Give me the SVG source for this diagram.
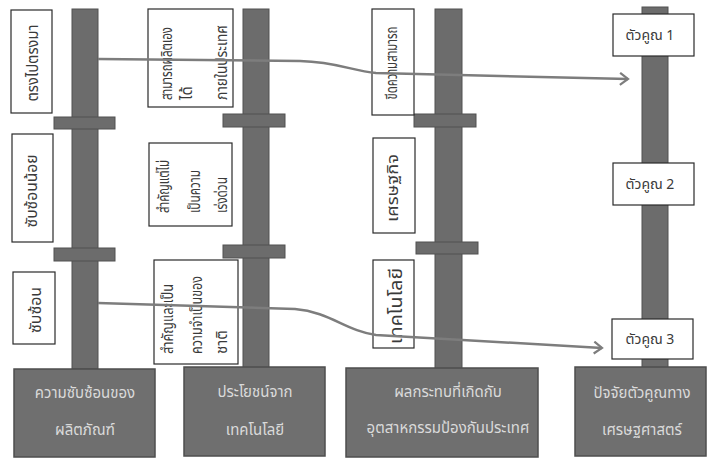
<svg xmlns="http://www.w3.org/2000/svg" width="708" height="459" viewBox="0 0 708 459">
<style>
.bg{fill:#ffffff}
.stem{fill:#6c6c6c;stroke:#515151;stroke-width:1}
.bar{fill:#6c6c6c;stroke:#515151;stroke-width:1}
.box{fill:#ffffff;stroke:#2a2a2a;stroke-width:1.2}
.base{fill:#6f6f6f;stroke:#4e4e4e;stroke-width:1.5}
.t{font-family:"Noto Sans Thai","Noto Sans","DejaVu Sans",sans-serif;font-size:15px;fill:#3a3a3a}
.w{font-family:"Noto Sans Thai","Noto Sans","DejaVu Sans",sans-serif;font-size:15px;fill:#dadada;text-anchor:middle}
.m{font-family:"Noto Sans Thai","Noto Sans","DejaVu Sans",sans-serif;font-size:14px;fill:#3a3a3a;text-anchor:middle}
.c{fill:none;stroke:#7d7d7d;stroke-width:2.5}
</style>
<defs>
<marker id="ah" markerUnits="userSpaceOnUse" markerWidth="14" markerHeight="14" refX="11" refY="7" orient="auto">
<path d="M3,1 L11,7 L3,13" fill="none" stroke="#7d7d7d" stroke-width="2.2"/>
</marker>
</defs>
<rect class="bg" x="0" y="0" width="708" height="459"/>

<g id="spine1">
<rect class="stem" x="72" y="9" width="26" height="360"/>
<rect class="bar" x="54" y="117" width="61" height="12"/>
<rect class="bar" x="54" y="248" width="61" height="13"/>
</g>
<g id="spine2">
<rect class="stem" x="243" y="9" width="26" height="360"/>
<rect class="bar" x="223" y="114" width="62" height="13"/>
<rect class="bar" x="223" y="245" width="62" height="13"/>
</g>
<g id="spine3">
<rect class="stem" x="435" y="9" width="27" height="360"/>
<rect class="bar" x="414" y="114" width="62" height="13"/>
<rect class="bar" x="416" y="242" width="62" height="12"/>
</g>
<g id="spine4">
<rect class="stem" x="642" y="7" width="26" height="362"/>
</g>

<g id="l1">
<rect class="box" x="11" y="10" width="41" height="103"/>
<text class="t" text-anchor="middle" transform="translate(38,63) rotate(-90)" textLength="77" lengthAdjust="spacingAndGlyphs">ตรงไปตรงมา</text>
</g>
<g id="l2">
<rect class="box" x="12" y="134" width="41" height="108"/>
<text class="t" text-anchor="middle" transform="translate(37,191) rotate(-90)" textLength="73" lengthAdjust="spacingAndGlyphs">ซับซ้อนน้อย</text>
</g>
<g id="l3">
<rect class="box" x="13" y="272" width="42" height="72"/>
<text class="t" text-anchor="middle" transform="translate(41,310) rotate(-90)" textLength="46" lengthAdjust="spacingAndGlyphs">ซับซ้อน</text>
</g>

<g id="b1">
<rect class="box" x="148" y="9" width="85" height="98"/>
<text class="t" transform="translate(172,100) rotate(-90)"><tspan x="0" y="0" textLength="73" lengthAdjust="spacingAndGlyphs">สามารถผลิตเอง</tspan><tspan x="0" y="20">ได้</tspan><tspan x="0" y="55" textLength="75" lengthAdjust="spacingAndGlyphs">ภายในประเทศ</tspan></text>
</g>
<g id="b2">
<rect class="box" x="149" y="143" width="83" height="83"/>
<text class="t" transform="translate(169,213) rotate(-90)"><tspan x="0" y="0" textLength="53" lengthAdjust="spacingAndGlyphs">สำคัญแต่ไม่</tspan><tspan x="0" y="31" textLength="43" lengthAdjust="spacingAndGlyphs">เป็นความ</tspan><tspan x="0" y="58" textLength="36" lengthAdjust="spacingAndGlyphs">เร่งด่วน</tspan></text>
</g>
<g id="b3">
<rect class="box" x="154" y="260" width="84" height="104"/>
<text class="t" transform="translate(173,354) rotate(-90)"><tspan x="0" y="0" textLength="70" lengthAdjust="spacingAndGlyphs">สำคัญและเป็น</tspan><tspan x="0" y="29" textLength="78" lengthAdjust="spacingAndGlyphs">ความจำเป็นของ</tspan><tspan x="0" y="54">ชาติ</tspan></text>
</g>

<g id="c1">
<rect class="box" x="372" y="9" width="42" height="106"/>
<text class="t" text-anchor="middle" transform="translate(397,63) rotate(-90)" textLength="73" lengthAdjust="spacingAndGlyphs">ขีดความสามารถ</text>
</g>
<g id="c2">
<rect class="box" x="373" y="138" width="42" height="95"/>
<text class="t" text-anchor="middle" transform="translate(398,188) rotate(-90)" textLength="68" lengthAdjust="spacingAndGlyphs">เศรษฐกิจ</text>
</g>
<g id="c3">
<rect class="box" x="373" y="260" width="41" height="88"/>
<text class="t" text-anchor="middle" transform="translate(402,306) rotate(-90)" textLength="76" lengthAdjust="spacingAndGlyphs" style="font-size:17px">เทคโนโลยี</text>
</g>

<g id="m1">
<rect class="box" x="613" y="14" width="81" height="42"/>
<text class="m" x="650" y="40">ตัวคูณ 1</text>
</g>
<g id="m2">
<rect class="box" x="613" y="163" width="81" height="42"/>
<text class="m" x="650" y="189">ตัวคูณ 2</text>
</g>
<g id="m3">
<rect class="box" x="612" y="319" width="81" height="40"/>
<text class="m" x="650" y="344">ตัวคูณ 3</text>
</g>

<g id="f1">
<rect class="base" x="14" y="369" width="141" height="88"/>
<text class="w" x="85" y="398">ความซับซ้อนของ</text>
<text class="w" x="85" y="435">ผลิตภัณฑ์</text>
</g>
<g id="f2">
<rect class="base" x="184" y="367" width="141" height="89"/>
<text class="w" x="255" y="397">ประโยชน์จาก</text>
<text class="w" x="255" y="435">เทคโนโลยี</text>
</g>
<g id="f3">
<rect class="base" x="346" y="368" width="192" height="89"/>
<text class="w" x="448" y="397">ผลกระทบที่เกิดกับ</text>
<text class="w" x="448" y="433">อุตสาหกรรมป้องกันประเทศ</text>
</g>
<g id="f4">
<rect class="base" x="575" y="367" width="131" height="89"/>
<text class="w" x="642" y="398">ปัจจัยตัวคูณทาง</text>
<text class="w" x="642" y="435">เศรษฐศาสตร์</text>
</g>

<g id="connectors">
<path class="c" d="M98,59 L300,61 C338,62 352,71 376,73 L628,79" marker-end="url(#ah)"/>
<path class="c" d="M98,303 L295,309 C330,312 346,331 376,335 L602,348" marker-end="url(#ah)"/>
</g>
</svg>
